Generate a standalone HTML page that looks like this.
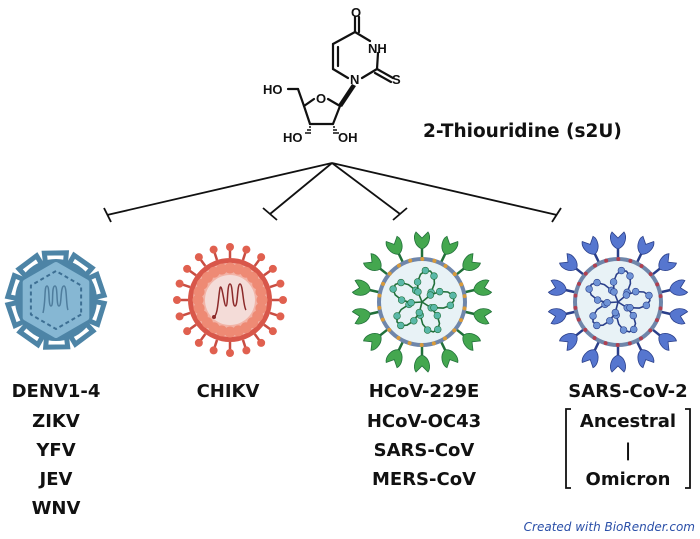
<!DOCTYPE html>
<html><head><meta charset="utf-8"><style>
html,body{margin:0;padding:0;background:#fff;}
body{width:700px;height:539px;overflow:hidden;position:relative;}
svg{position:absolute;left:0;top:0;}
.t{font-family:"DejaVu Sans","Liberation Sans",sans-serif;font-weight:bold;font-size:18px;fill:#111;}
.a{font-family:"Liberation Sans",sans-serif;font-weight:bold;font-size:13px;fill:#111;}
</style></head><body>
<svg id="s" width="700" height="539" viewBox="0 0 700 539" xmlns="http://www.w3.org/2000/svg">
<g stroke="#111" stroke-width="2.2" fill="none" stroke-linecap="round">
 <line x1="355" y1="17" x2="355" y2="32"/><line x1="359" y1="17" x2="359" y2="32"/>
 <line x1="355" y1="32" x2="370" y2="41"/>
 <line x1="378" y1="53" x2="377" y2="69"/>
 <line x1="377" y1="69" x2="362" y2="78"/>
 <line x1="377" y1="69" x2="393" y2="78"/><line x1="375" y1="73" x2="391" y2="82"/>
 <line x1="348" y1="78" x2="333" y2="69"/>
 <line x1="333" y1="69" x2="333" y2="44"/><line x1="338" y1="66" x2="338" y2="47"/>
 <line x1="333" y1="44" x2="355" y2="32"/>
 <line x1="304" y1="106" x2="314" y2="99"/>
 <line x1="328" y1="99" x2="340" y2="106"/>
 <line x1="340" y1="106" x2="333" y2="124"/>
 <line x1="333" y1="124" x2="310" y2="124"/>
 <line x1="310" y1="124" x2="304" y2="106"/>
 <line x1="304" y1="106" x2="298" y2="89"/>
 <line x1="298" y1="89" x2="288" y2="89"/>
</g>
<polygon points="352,84 356,86 342,107 338,105" fill="#111"/>
<g stroke="#111" stroke-width="1.5">
 <line x1="309" y1="127" x2="311" y2="127"/><line x1="307" y1="130" x2="311" y2="130"/><line x1="305" y1="133" x2="311" y2="133"/>
 <line x1="333" y1="127" x2="335" y2="127"/><line x1="333" y1="130" x2="337" y2="130"/><line x1="333" y1="133" x2="339" y2="133"/>
</g>
<text class="a" x="351" y="17">O</text>
<text class="a" x="368" y="53">NH</text>
<text class="a" x="350" y="84">N</text>
<text class="a" x="392" y="84">S</text>
<text class="a" x="316" y="103">O</text>
<text class="a" x="263" y="94">HO</text>
<text class="a" x="283" y="142">HO</text>
<text class="a" x="338" y="142">OH</text>
<text class="t" x="423" y="137" style="font-size:18.5px">2-Thiouridine (s2U)</text>
<g stroke="#111" stroke-width="1.8" fill="none">
 <line x1="332" y1="163" x2="107" y2="215"/><line x1="104" y1="208" x2="111" y2="222"/>
 <line x1="332" y1="163" x2="270" y2="214"/><line x1="263" y1="208" x2="277" y2="220"/>
 <line x1="332" y1="163" x2="400" y2="214"/><line x1="393" y1="220" x2="407" y2="208"/>
 <line x1="332" y1="163" x2="557" y2="215"/><line x1="552" y1="222" x2="561" y2="208"/>
</g>
<g id="v"></g>
<g class="t" text-anchor="middle">
 <text x="56" y="397">DENV1-4</text><text x="56" y="427">ZIKV</text><text x="56" y="456">YFV</text><text x="56" y="485">JEV</text><text x="56" y="514">WNV</text>
 <text x="228" y="397">CHIKV</text>
 <text x="424" y="397">HCoV-229E</text><text x="424" y="427">HCoV-OC43</text><text x="424" y="456">SARS-CoV</text><text x="424" y="485">MERS-CoV</text>
 <text x="628" y="397">SARS-CoV-2</text><text x="628" y="427">Ancestral</text><text x="628" y="456">|</text><text x="628" y="485">Omicron</text>
</g>
<g stroke="#111" stroke-width="1.8" fill="none">
 <polyline points="571,409 566,409 566,488 571,488"/>
 <polyline points="685,409 690,409 690,488 685,488"/>
</g>
<text x="695" y="531" text-anchor="end" style="font-family:'DejaVu Sans','Liberation Sans',sans-serif;font-style:italic;font-size:12px;fill:#2a4fa8">Created with BioRender.com</text>
</svg>
<script>
var g=document.getElementById('v'),h='';
function P(a,r,cx,cy){return [cx+r*Math.cos(a),cy+r*Math.sin(a)];}
(function(){var cx=56,cy=300;
h+='<circle cx="'+cx+'" cy="'+cy+'" r="41" fill="#4d84a6"/>';
for(var i=0;i<10;i++){var a=i*Math.PI/5+0.3;
 h+='<g transform="translate('+cx+','+cy+') rotate('+(a*180/Math.PI)+')"><path d="M37,-10 L47,-11 L47,11 L37,10" fill="none" stroke="#4d84a6" stroke-width="5"/></g>';}
var pts=[];for(var i=0;i<6;i++){var p=P(i*Math.PI/3+Math.PI/6,35,cx,cy);pts.push(p.join(','));}
h+='<polygon points="'+pts.join(' ')+'" fill="#86b7d3" stroke="#86b7d3" stroke-width="6" stroke-linejoin="round"/>';
pts=[];for(var i=0;i<6;i++){var p=P(i*Math.PI/3+Math.PI/6,29,cx,cy);pts.push(p.join(','));}
h+='<polygon points="'+pts.join(' ')+'" fill="none" stroke="#3d6f93" stroke-width="2" stroke-dasharray="4,3" stroke-linejoin="round"/>';
h+='<path d="M43,313 C46,300 44,286 47,286 C50,286 48,306 51,306 C54,306 51,286 55,286 C58,286 56,306 59,306 C62,306 60,286 64,286 C67,286 66,306 68,310" fill="none" stroke="#4f7d9d" stroke-width="1.5"/>';
})();
(function(){var cx=230,cy=300;
for(var i=0;i<20;i++){var a=i*Math.PI/10;var p1=P(a,42,cx,cy),p2=P(a,53,cx,cy);
 h+='<line x1="'+p1[0]+'" y1="'+p1[1]+'" x2="'+p2[0]+'" y2="'+p2[1]+'" stroke="#c94d42" stroke-width="2.5"/><circle cx="'+p2[0]+'" cy="'+p2[1]+'" r="4" fill="#e0604f"/>';}
h+='<circle cx="'+cx+'" cy="'+cy+'" r="42" fill="#d8574a"/><circle cx="'+cx+'" cy="'+cy+'" r="37" fill="#f2b3a6"/>';
for(var i=0;i<24;i++){var p=P(i*Math.PI/12,32,cx,cy);h+='<circle cx="'+p[0]+'" cy="'+p[1]+'" r="5.5" fill="#ee8a74"/>';}
h+='<circle cx="'+cx+'" cy="'+cy+'" r="25" fill="#f4dcd8"/>';
h+='<path d="M214,317 C218,314 218,300 220,288 C222,282 224,306 226,306 C228,306 227,284 230,284 C233,284 232,306 235,306 C238,306 237,284 240,284 C243,284 243,306 246,310" fill="none" stroke="#8c2a2a" stroke-width="1.5"/><circle cx="214" cy="317" r="2" fill="#8c2a2a"/>';
})();
function cov(cx,cy,spike,dark,rna,mark){
 for(var i=0;i<14;i++){var a=i*2*Math.PI/14-Math.PI/2;
  h+='<g transform="translate('+cx+','+cy+') rotate('+(a*180/Math.PI+90)+')"><line x1="0" y1="-42" x2="0" y2="-55" stroke="'+dark+'" stroke-width="2.5"/><path d="M0,-53 C-8,-56 -9,-66 -6,-70 L0,-64 L6,-70 C9,-66 8,-56 0,-53Z" fill="'+spike+'" stroke="'+dark+'" stroke-width="0.8"/></g>';}
 h+='<circle cx="'+cx+'" cy="'+cy+'" r="43" fill="#e8f2f6" stroke="#6f86aa" stroke-width="4"/>';
 for(var i=0;i<22;i++){var p=P(i*2*Math.PI/22+0.15,43,cx,cy);h+='<circle cx="'+p[0]+'" cy="'+p[1]+'" r="2" fill="'+mark+'"/>';}
 for(var k=0;k<5;k++){var b=k*2*Math.PI/5+0.4;var d='M'+cx+','+cy;var beads='';
  for(var j=1;j<=8;j++){var t=j/8;var r=30*Math.sin(t*Math.PI*0.9)+4*t;var ang=b+t*1.3;var p=P(ang,r,cx,cy);d+=' L'+p[0].toFixed(1)+','+p[1].toFixed(1);
   if(j%2==0||j==1)beads+='<circle cx="'+p[0]+'" cy="'+p[1]+'" r="3.4" fill="'+rna+'" stroke="'+dark+'" stroke-width="0.6"/>';}
  h+='<path d="'+d+'" fill="none" stroke="'+dark+'" stroke-width="1.6" stroke-linejoin="round"/>'+beads;}
}
cov(422,302,'#44a74f','#21703a','#5ab8a8','#d89a3a');
cov(618,302,'#5676cf','#2a3f8a','#6f93d6','#b04050');
g.innerHTML=h;
</script>
</body></html>
